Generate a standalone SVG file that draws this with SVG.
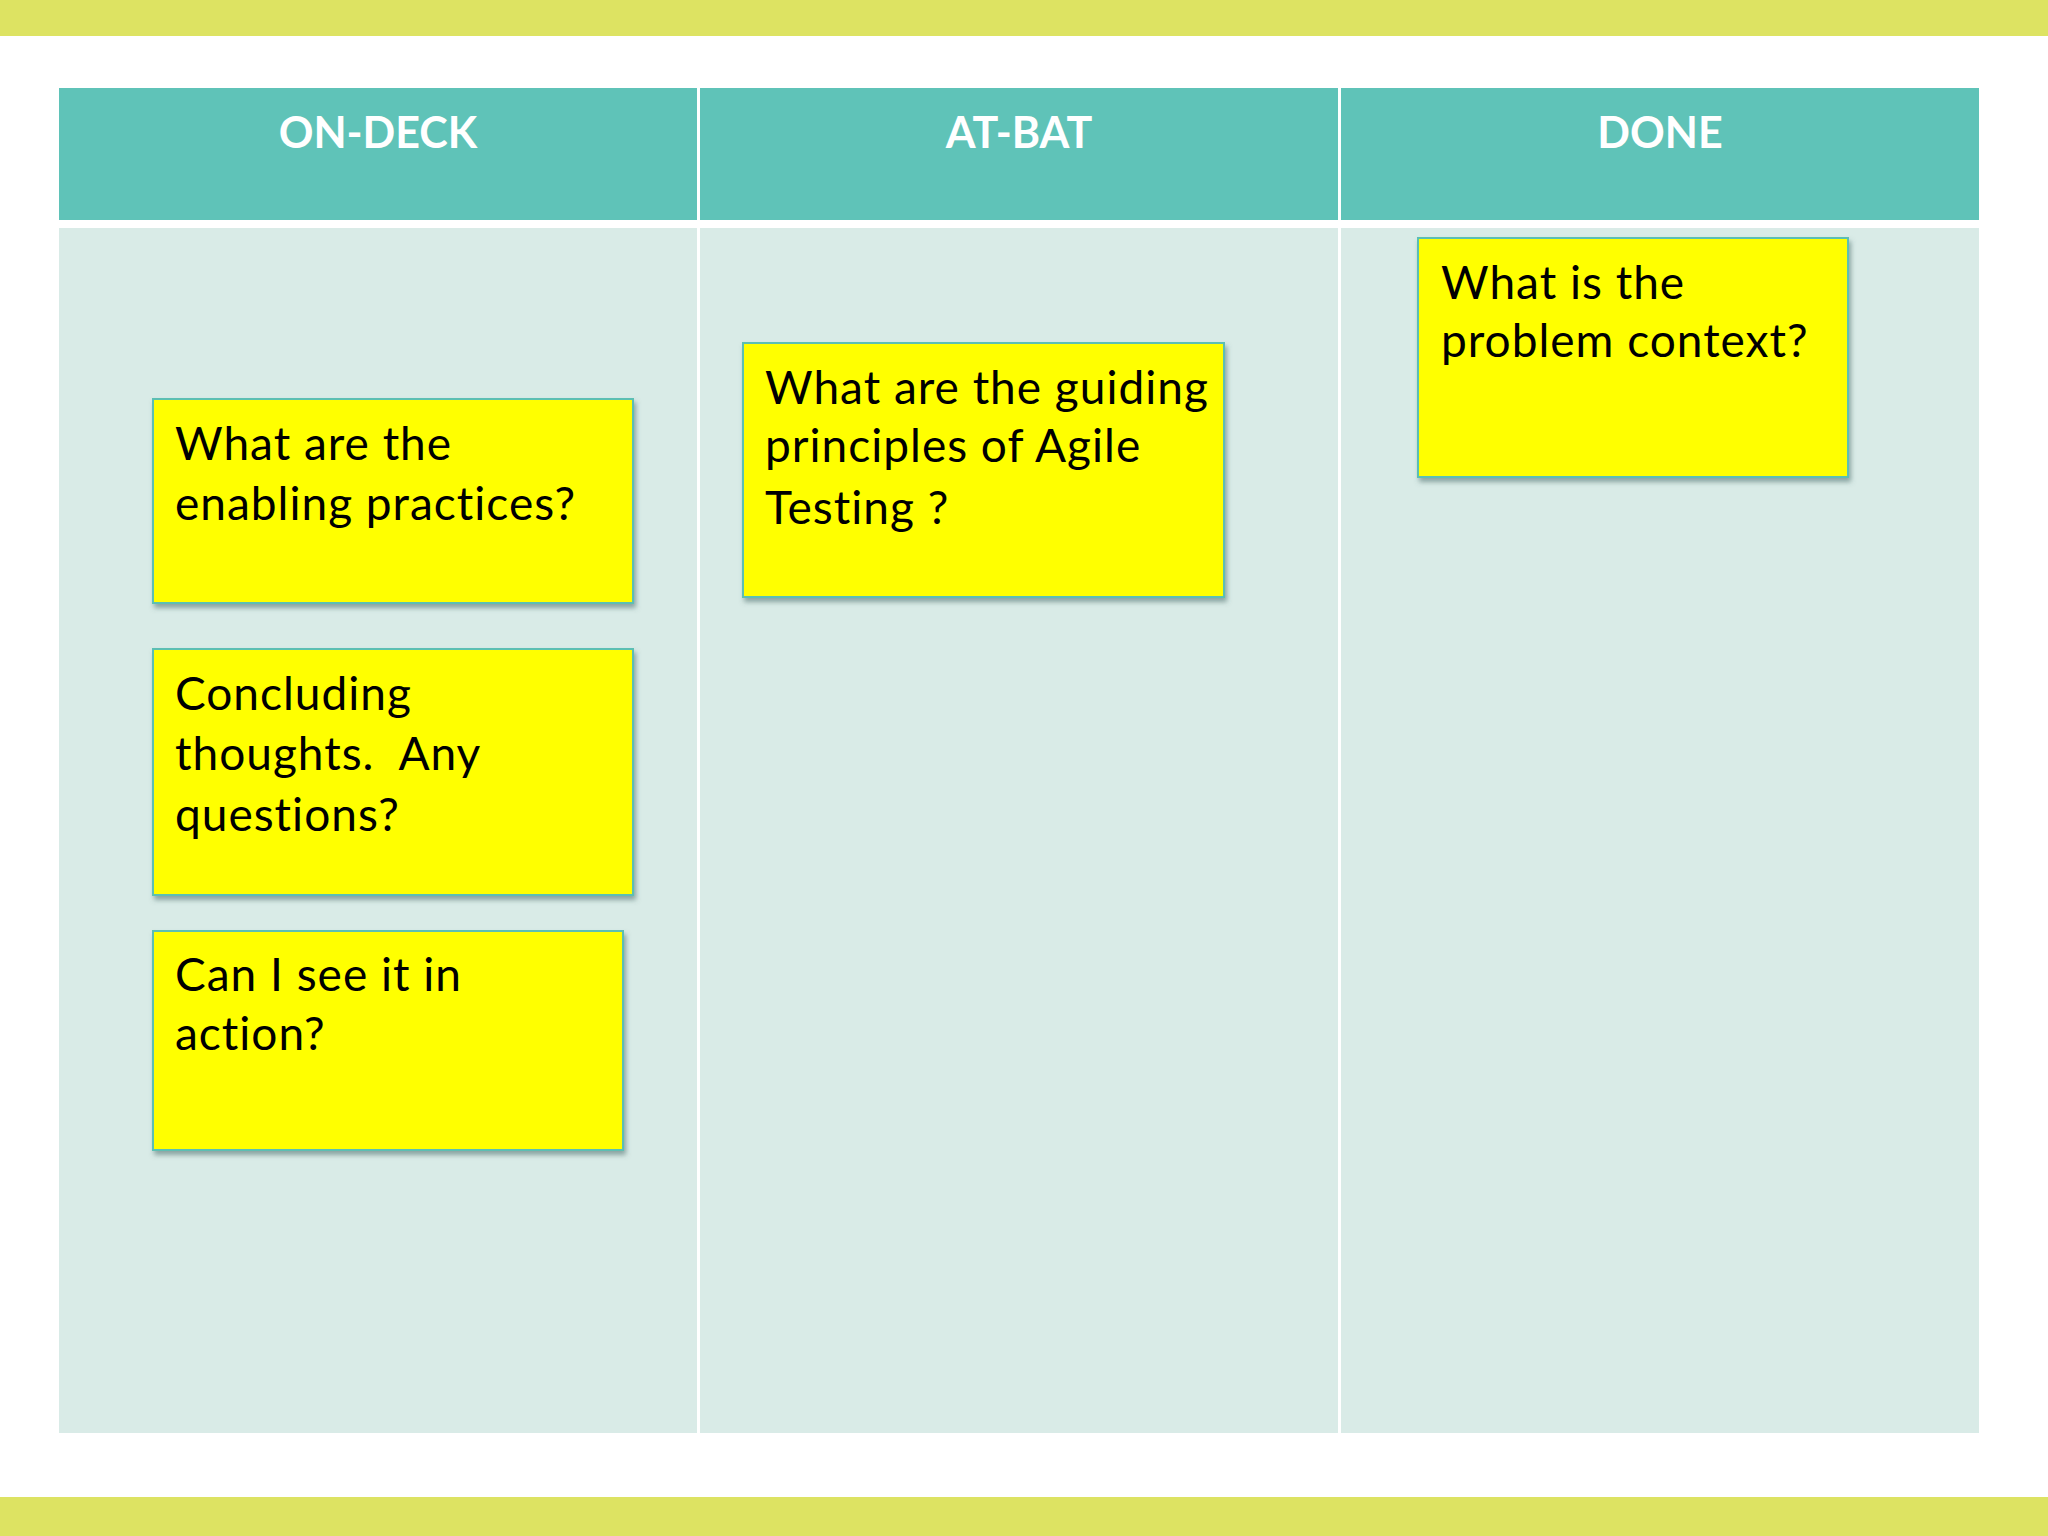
<svg xmlns="http://www.w3.org/2000/svg" width="2048" height="1536" viewBox="0 0 2048 1536">
<defs>
<filter id="sh" x="-5%" y="-5%" width="115%" height="120%">
<feDropShadow dx="2" dy="4" stdDeviation="2.5" flood-color="#4a6a66" flood-opacity="0.55"/>
</filter>
<style>
.bar{fill:#DDE362}
.hdr{fill:#5FC3B8}
.body{fill:#D9EBE7}
.htxt{font-family:Lato,"Open Sans",sans-serif;font-weight:700;font-size:43px;fill:#FFFFFF;text-anchor:middle}
.note{fill:#FFFF00;stroke:#5BBFB3;stroke-width:2;filter:url(#sh)}
.ntxt{font-family:Lato,"Liberation Sans",sans-serif;font-size:46px;letter-spacing:1px;fill:#000000}
</style>
</defs>
<rect width="2048" height="1536" fill="#FFFFFF"/>
<rect class="bar" x="0" y="0" width="2048" height="36"/>
<rect class="bar" x="0" y="1497" width="2048" height="39"/>
<g id="board">
<rect class="hdr" x="59" y="88" width="638" height="132"/>
<rect class="hdr" x="700" y="88" width="638" height="132"/>
<rect class="hdr" x="1341" y="88" width="638" height="132"/>
<rect class="body" x="59" y="228" width="638" height="1205"/>
<rect class="body" x="700" y="228" width="638" height="1205"/>
<rect class="body" x="1341" y="228" width="638" height="1205"/>
<text class="htxt" x="378" y="148">ON-DECK</text>
<text class="htxt" x="1019" y="148">AT-BAT</text>
<text class="htxt" x="1660" y="148">DONE</text>
</g>
<g id="note-enabling">
<rect class="note" x="153" y="399" width="480" height="204"/>
<text class="ntxt" x="175" y="460">What are the</text>
<text class="ntxt" x="175" y="520">enabling practices?</text>
</g>
<g id="note-concluding">
<rect class="note" x="153" y="649" width="480" height="246"/>
<text class="ntxt" x="175" y="710">Concluding</text>
<text class="ntxt" x="175" y="770">thoughts.&#160; Any</text>
<text class="ntxt" x="175" y="831">questions?</text>
</g>
<g id="note-action">
<rect class="note" x="153" y="931" width="470" height="219"/>
<text class="ntxt" x="175" y="991">Can I see it in</text>
<text class="ntxt" x="175" y="1050">action?</text>
</g>
<g id="note-principles">
<rect class="note" x="743" y="343" width="481" height="254"/>
<text class="ntxt" x="765" y="404">What are the guiding</text>
<text class="ntxt" x="765" y="462">principles of Agile</text>
<text class="ntxt" x="765" y="524">Testing ?</text>
</g>
<g id="note-context">
<rect class="note" x="1418" y="238" width="430" height="239"/>
<text class="ntxt" x="1441" y="299">What is the</text>
<text class="ntxt" x="1441" y="357">problem context?</text>
</g>
<g id="connectors"/>
</svg>
